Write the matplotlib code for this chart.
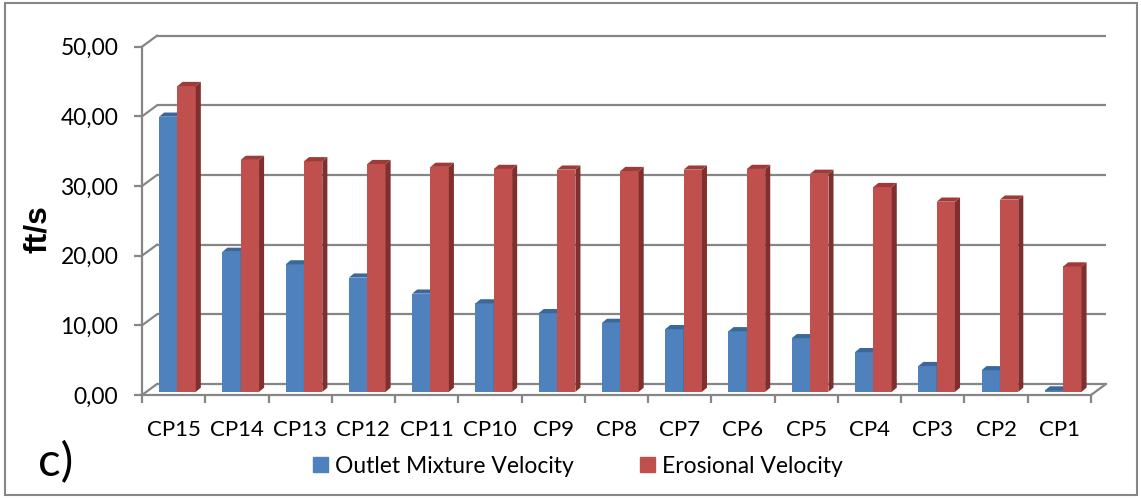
import numpy as np
import matplotlib.pyplot as plt
from matplotlib.patches import Rectangle, Patch

plt.rcParams['font.family'] = ['Lato', 'DejaVu Sans']

categories = ['CP15', 'CP14', 'CP13', 'CP12', 'CP11', 'CP10', 'CP9', 'CP8',
              'CP7', 'CP6', 'CP5', 'CP4', 'CP3', 'CP2', 'CP1']
outlet = [39.5, 20.1, 18.3, 16.4, 14.1, 12.7, 11.3, 9.9, 9.0, 8.7, 7.7, 5.7, 3.7, 3.1, 0.2]
erosional = [43.9, 33.3, 33.1, 32.7, 32.3, 32.0, 31.9, 31.7, 31.9, 32.0, 31.3, 29.4, 27.3, 27.6, 18.0]
yticks = [0, 10, 20, 30, 40, 50]
ytick_labels = ['0,00', '10,00', '20,00', '30,00', '40,00', '50,00']

W, H = 1141, 498
fig = plt.figure(figsize=(W / 100, H / 100), dpi=100)
ax = fig.add_axes([142 / W, 103 / H, (1091 - 142) / W, (451.3 - 103) / H])

n = len(categories)
x = np.arange(n)
ax.set_xlim(-0.5, n - 0.5)
ax.set_ylim(0, 50)

grid_c = '#868686'
# depth of the back wall, in data units
gdx, gdy = 0.237, 1.58

# back wall gridlines + connectors on the left
for v in yticks:
    ax.plot([-0.5 + gdx, n - 0.5 + gdx], [v + gdy, v + gdy], color=grid_c, lw=1.6,
            clip_on=False, zorder=1, solid_capstyle='butt')
    ax.plot([-0.5, -0.5 + gdx], [v, v + gdy], color=grid_c, lw=1.6, clip_on=False, zorder=1)
# floor
ax.plot([-0.5, n - 0.5], [0, 0], color=grid_c, lw=1.6, clip_on=False, zorder=1)
ax.plot([n - 0.5, n - 0.5 + gdx], [0, gdy], color=grid_c, lw=1.6, clip_on=False, zorder=1)
ax.plot([-0.5, -0.5], [0, 50], color=grid_c, lw=1.6, clip_on=False, zorder=1)

w = 0.29
shift = 0.06
base = 0.45
bdx, bdy = 0.08, 0.6


def bars3d(xs, vals, front, side, top):
    ax.bar(xs, vals, w, bottom=base, color=front, zorder=3)
    for xi, v in zip(xs, vals):
        x0, x1 = xi - w / 2, xi + w / 2
        h = base + v
        ax.fill([x1, x1 + bdx, x1 + bdx, x1], [base, base + bdy, h + bdy, h],
                color=side, zorder=3, clip_on=False, lw=0)
        ax.fill([x0, x1, x1 + bdx, x0 + bdx], [h, h, h + bdy, h + bdy],
                color=top, zorder=3, clip_on=False, lw=0)


bars3d(x - w / 2 + shift, outlet, '#4F81BD', '#385D8A', '#3C679A')
bars3d(x + w / 2 + shift, erosional, '#C0504D', '#7F2F2D', '#9E3B38')

for s in ax.spines.values():
    s.set_visible(False)

ax.set_yticks(yticks)
ax.set_yticklabels(ytick_labels)
ax.tick_params(axis='y', length=6, width=1.6, color=grid_c, pad=11, labelsize=16.5)
ax.set_xticks(x)
ax.set_xticklabels(categories)
ax.set_xticks(np.arange(-0.5, n), minor=True)
ax.tick_params(axis='x', which='major', length=0, pad=18, labelsize=16)
ax.tick_params(axis='x', which='minor', length=6, width=1.6, color=grid_c)

fig.text(38 / W, 1 - 229 / H, 'ft/s', rotation=90, fontsize=23, fontweight='bold',
         family=['Liberation Sans', 'DejaVu Sans'], ha='center', va='center')
fig.text(38 / W, 1 - 463 / H, 'c)', fontsize=34, ha='left', va='center')

handles = [Patch(color='#4F81BD'), Patch(color='#C0504D')]
fig.legend(handles, ['Outlet Mixture Velocity', 'Erosional Velocity'], ncol=2,
           loc='center', bbox_to_anchor=(578 / W, 1 - 466 / H), frameon=False,
           fontsize=16.5, handlelength=0.65, handleheight=0.65, handletextpad=0.3,
           columnspacing=2.9)

fig.patches.append(Rectangle((5 / W, 3 / H), (1137 - 5) / W, (495 - 3) / H,
                             transform=fig.transFigure, fill=False,
                             edgecolor=grid_c, lw=1.5))

fig.savefig('out.png', dpi=100)
